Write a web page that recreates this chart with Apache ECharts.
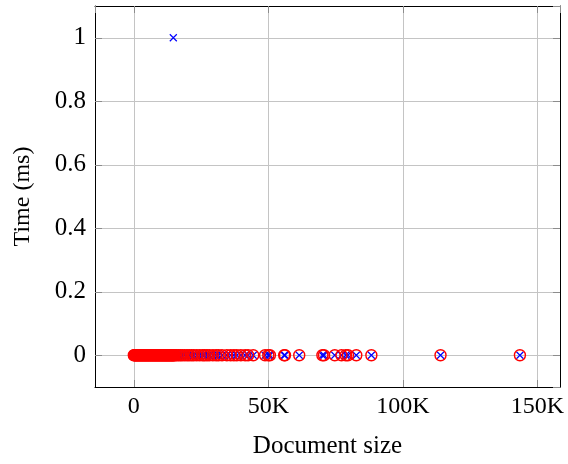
<!DOCTYPE html>
<html>
<head>
<meta charset="utf-8">
<script src="https://cdn.jsdelivr.net/npm/echarts@6/dist/echarts.min.js"></script>
<style>
  html, body { margin: 0; padding: 0; background: #fff; }
  #chart { width: 568px; height: 464px; }
</style>
</head>
<body>
<div id="chart"></div>
<script>
// Document sizes (bytes) of the measured documents
const sizes = [
  20, 260, 480, 750, 980, 1230, 1470, 1720, 1960, 2210, 2450, 2700, 2940, 3190,
  3430, 3680, 3920, 4170, 4410, 4660, 4900, 5150, 5390, 5640, 5880, 6130, 6370,
  6620, 6860, 7110, 7350, 7600, 7840, 8090, 8330, 8580, 8820, 9070, 9310, 9560,
  9800, 10050, 10290, 10540, 10780, 11030, 11270, 11520, 11760, 12010, 12250,
  12500, 12740, 12990, 13230, 13480, 13720, 13970, 14210, 14460, 14700, 14950,
  15300, 15900, 16600, 17300, 18000, 18900, 19800, 20600, 21500, 22300, 23400,
  24500, 25600, 26300, 27200, 28100, 29400, 30600, 31500, 32800, 34600, 36000,
  37200, 38300, 39800, 41400, 42500, 44400, 48800, 50000, 50600, 55900, 56200,
  61500, 70100, 70700, 74700, 77200, 78800, 79600, 82700, 88300, 114000, 143500
];
// Measured time (ms), first run: all under the timer resolution
const redTimes = [
  0, 0, 0, 0, 0, 0, 0, 0, 0, 0, 0, 0, 0, 0,
  0, 0, 0, 0, 0, 0, 0, 0, 0, 0, 0, 0, 0,
  0, 0, 0, 0, 0, 0, 0, 0, 0, 0, 0, 0, 0,
  0, 0, 0, 0, 0, 0, 0, 0, 0, 0, 0,
  0, 0, 0, 0, 0, 0, 0, 0, 0, 0, 0,
  0, 0, 0, 0, 0, 0, 0, 0, 0, 0, 0,
  0, 0, 0, 0, 0, 0, 0, 0, 0, 0, 0,
  0, 0, 0, 0, 0, 0, 0, 0, 0, 0, 0,
  0, 0, 0, 0, 0, 0, 0, 0, 0, 0, 0
];
// Measured time (ms), second run: one document took 1 ms
const blueTimes = [
  0, 0, 0, 0, 0, 0, 0, 0, 0, 0, 0, 0, 0, 0,
  0, 0, 0, 0, 0, 0, 0, 0, 0, 0, 0, 0, 0,
  0, 0, 0, 0, 0, 0, 0, 0, 0, 0, 0, 0, 0,
  0, 0, 0, 0, 0, 0, 0, 0, 0, 0, 0,
  0, 0, 0, 0, 0, 0, 0, 0, 0, 1, 0,
  0, 0, 0, 0, 0, 0, 0, 0, 0, 0, 0,
  0, 0, 0, 0, 0, 0, 0, 0, 0, 0, 0,
  0, 0, 0, 0, 0, 0, 0, 0, 0, 0, 0,
  0, 0, 0, 0, 0, 0, 0, 0, 0, 0, 0
];
// Axis ranges and tick spacing
const xRange = [-14400, 158400];
const xStep = 50000;
const yRange = [-0.1, 1.1];
const yStep = 0.2;

const FONT = 'Liberation Serif';
const gridColor = '#c4c4c4';
const tickColor = '#8c8c8c';

function xFmt(v) { return v === 0 ? '0' : (v / 1000) + 'K'; }
function yFmt(v) { return String(Math.round(v * 10) / 10); }

function xAxisDef(pos, main) {
  return {
    type: 'value', position: pos,
    min: xRange[0], max: xRange[1],
    minInterval: xStep, maxInterval: xStep,
    axisLine: { show: true, onZero: false, lineStyle: { color: '#000', width: 1 } },
    axisTick: { show: true, inside: true, length: 7, lineStyle: { color: tickColor } },
    axisLabel: {
      show: main, showMinLabel: false, showMaxLabel: false,
      formatter: xFmt, color: '#000', fontFamily: FONT, fontSize: 24, margin: 8
    },
    splitLine: { show: main, lineStyle: { color: gridColor, width: 1 } },
    name: main ? 'Document size' : '',
    nameLocation: 'middle', nameGap: 47,
    nameTextStyle: { color: '#000', fontFamily: FONT, fontSize: 25 }
  };
}
function yAxisDef(pos, main) {
  return {
    type: 'value', position: pos,
    min: yRange[0], max: yRange[1],
    minInterval: yStep, maxInterval: yStep,
    axisLine: { show: true, onZero: false, lineStyle: { color: '#000', width: 1 } },
    axisTick: { show: true, inside: true, length: 7, lineStyle: { color: tickColor } },
    axisLabel: {
      show: main, showMinLabel: false, showMaxLabel: false,
      formatter: yFmt, color: '#000', fontFamily: FONT, fontSize: 25, margin: 9
    },
    splitLine: { show: main, lineStyle: { color: gridColor, width: 1 } },
    name: main ? 'Time (ms)' : '',
    nameLocation: 'middle', nameGap: 60,
    nameTextStyle: { color: '#000', fontFamily: FONT, fontSize: 24 }
  };
}

const chart = echarts.init(document.getElementById('chart'), null, { renderer: 'canvas' });
chart.setOption({
  animation: false,
  backgroundColor: '#fff',
  grid: { left: 95, right: 8, top: 6, bottom: 73, containLabel: false },
  xAxis: [xAxisDef('bottom', true), xAxisDef('top', false)],
  yAxis: [yAxisDef('left', true), yAxisDef('right', false)],
  series: [
    {
      type: 'scatter', xAxisIndex: 0, yAxisIndex: 0,
      data: sizes.map((s, i) => [s, blueTimes[i]]),
      symbol: 'path://M0,0L10,10M10,0L0,10',
      symbolSize: 7,
      itemStyle: { color: 'none', borderColor: '#0000ff', borderWidth: 1.2, opacity: 1 },
      z: 2
    },
    {
      type: 'scatter', xAxisIndex: 0, yAxisIndex: 0,
      data: sizes.map((s, i) => [s, redTimes[i]]),
      symbol: 'circle',
      symbolSize: 11,
      itemStyle: { color: 'none', borderColor: '#ff0000', borderWidth: 1.4, opacity: 1 },
      z: 3
    }
  ]
});
</script>
</body>
</html>
